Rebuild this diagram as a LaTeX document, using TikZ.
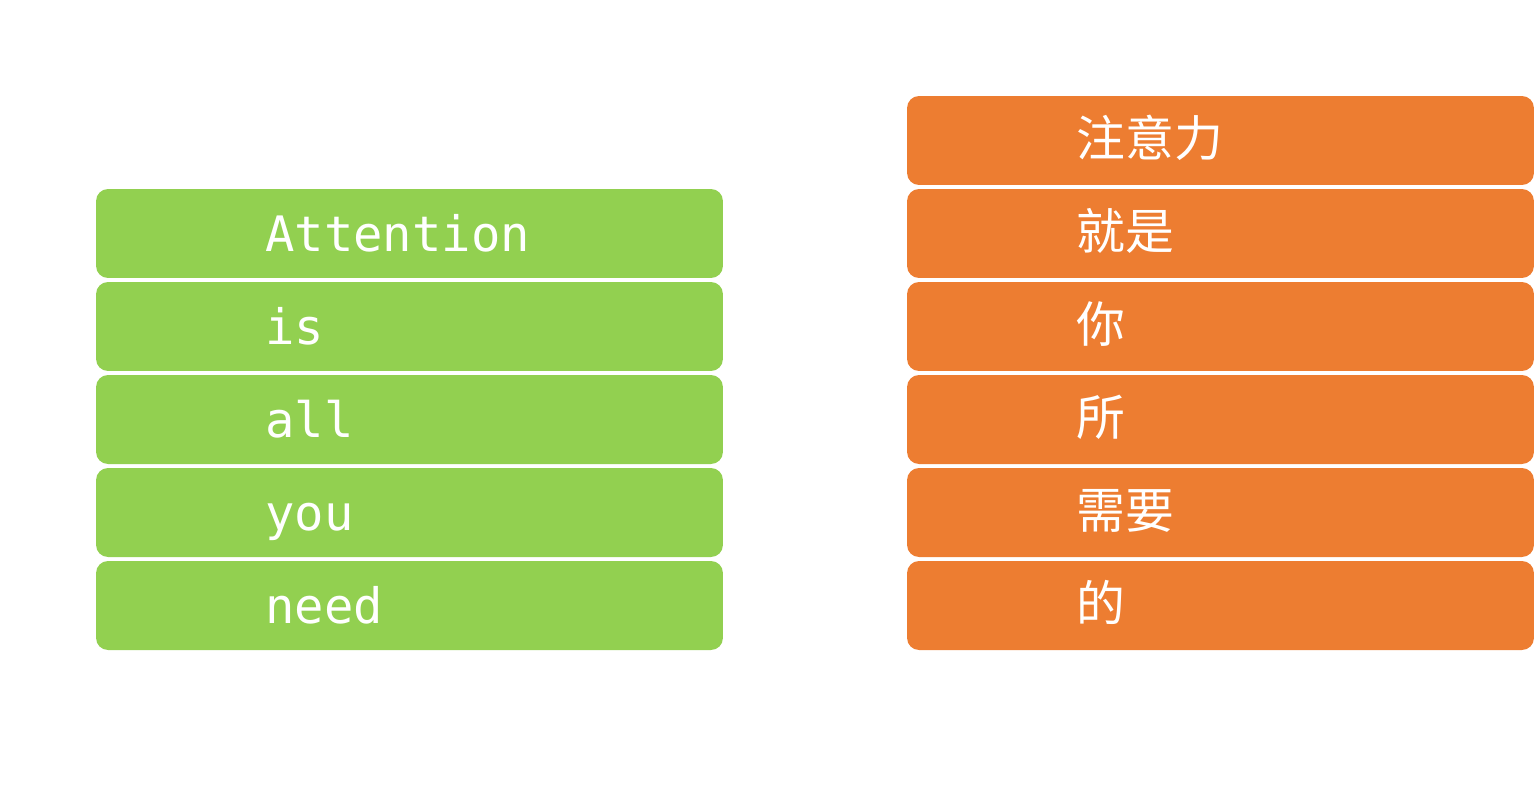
\documentclass[tikz,border=0pt]{standalone}
\usepackage{fontspec}
\setmonofont{DejaVu Sans Mono}
\newfontfamily\cjk{Noto Sans CJK SC}
\usepackage{tikz}
\definecolor{srcgreen}{HTML}{92D050}
\definecolor{tgtorange}{HTML}{ED7D31}
\tikzset{
  tokbox/.style={rounded corners=0.24cm, minimum width=12.54cm, minimum height=1.78cm, inner sep=0pt},
  tokword/.style={text=white, inner sep=0pt, anchor=base west, font=\fontsize{27.8}{30}\selectfont}
}

\begin{document}
\begin{tikzpicture}[x=0.02cm, y=-0.02cm]
    \useasboundingbox (0,0) rectangle (1539,792);
    % source sentence
    \foreach \w [count=\i, evaluate=\i as \t using 189+(\i-1)*93] in {Attention,is,all,you,need} {
        \node [tokbox, fill=srcgreen] (S\i) at (409.5, \t+44.5) {};
        \node [tokword, font=\fontsize{27.8}{30}\selectfont\ttfamily] (SW\i) at (265, \t+62) {\w};
    }
    % target sentence
    \foreach \w [count=\i, evaluate=\i as \t using 96+(\i-1)*93] in {注意力,就是,你,所,需要,的} {
        \node [tokbox, fill=tgtorange] (T\i) at (1220.5, \t+44.5) {};
        \node [tokword, font=\fontsize{27.8}{30}\selectfont\cjk] (TW\i) at (1076, \t+60) {\w};
    }
\end{tikzpicture}
\end{document}
